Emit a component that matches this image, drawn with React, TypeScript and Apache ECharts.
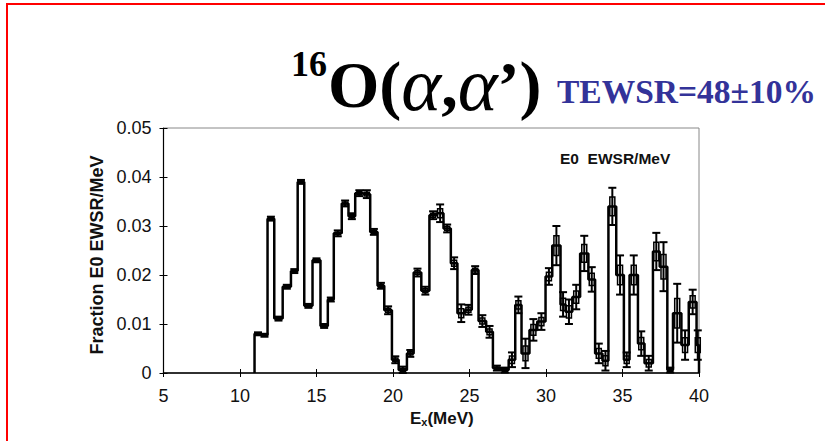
import React, { useEffect, useRef } from "react";
import * as echarts from "echarts";

// Bin edges (MeV) of the E0 strength histogram
const binEdges = [
  10.95, 11.4, 11.8, 12.24, 12.79, 13.33, 13.77, 14.2, 14.74, 15.26, 15.74, 16.13,
  16.65, 17.09, 17.53, 18.07, 18.51, 18.99, 19.43, 19.93, 20.37, 20.91, 21.35,
  21.85, 22.38, 22.86, 23.3, 23.78, 24.21, 24.71, 25.15, 25.59, 26.09, 26.53,
  27.05, 27.56, 27.99, 28.4, 28.92, 29.43, 29.97, 30.41, 30.95, 31.28, 31.72,
  32.23, 32.77, 33.21, 33.69, 34.08, 34.59, 35.09, 35.46, 36.01, 36.44, 36.99,
  37.43, 37.93, 38.3, 38.85, 39.33, 39.84, 40.0,
];

// Fraction of E0 EWSR per MeV in each bin
const fractionValues = [
  0.008, 0.0077, 0.0315, 0.0111, 0.0176, 0.0208, 0.039, 0.0137, 0.023, 0.0096,
  0.015, 0.0285, 0.0346, 0.032, 0.0367, 0.0365, 0.0288, 0.0178, 0.0128, 0.0027,
  0.0006, 0.004, 0.0205, 0.0168, 0.0322, 0.0326, 0.0295, 0.0224, 0.0122, 0.0129,
  0.021, 0.0106, 0.0084, 0.001, 0.0006, 0.0027, 0.0139, 0.004, 0.0088, 0.0105,
  0.0197, 0.026, 0.014, 0.0125, 0.0155, 0.0244, 0.0191, 0.004, 0.0025, 0.034,
  0.02, 0.0027, 0.02, 0.006, 0.002, 0.0248, 0.0217, 0.0006, 0.0122, 0.0057,
  0.0145, 0.0057,
];

// Statistical uncertainty of each bin
const errorValues = [
  0.0003, 0.0003, 0.0004, 0.0004, 0.0004, 0.0004, 0.0004, 0.0004, 0.0004, 0.0004,
  0.0004, 0.0006, 0.0006, 0.0006, 0.0006, 0.0008, 0.0006, 0.0006, 0.0008, 0.0007,
  0.0007, 0.0007, 0.0008, 0.0008, 0.0008, 0.0018, 0.0008, 0.0012, 0.0018, 0.001,
  0.0008, 0.0012, 0.0012, 0.0005, 0.0005, 0.0015, 0.0017, 0.003, 0.0022, 0.0017,
  0.0017, 0.004, 0.0025, 0.0025, 0.0025, 0.0036, 0.0025, 0.002, 0.002, 0.0038,
  0.004, 0.0015, 0.004, 0.0025, 0.0015, 0.0038, 0.005, 0.0005, 0.006, 0.003,
  0.0025, 0.003,
];

const xRange = [5, 40];
const yRange = [0, 0.05];

export default function App() {
  const ref = useRef<HTMLDivElement>(null);

  useEffect(() => {
    if (!ref.current) return;
    const chart = echarts.init(ref.current, null, { renderer: "svg" });

    const stepData: number[][] = [[binEdges[0], 0]];
    fractionValues.forEach((v, i) => stepData.push([binEdges[i], v]));
    stepData.push([binEdges[binEdges.length - 1], fractionValues[fractionValues.length - 1]]);
    stepData.push([binEdges[binEdges.length - 1], 0]);

    const errData = fractionValues.map((v, i) => [
      (binEdges[i] + binEdges[i + 1]) / 2,
      Math.max(0, v - errorValues[i]),
      v + errorValues[i],
      v,
      errorValues[i],
    ]);

    const axisFont = { fontFamily: "Liberation Sans", fontSize: 18, color: "#111" };

    chart.setOption({
      animation: false,
      backgroundColor: "#fff",
      grid: {
        left: 163.5,
        right: 126,
        top: 128,
        bottom: 68,
        show: true,
        borderColor: "#888",
        borderWidth: 1,
      },
      xAxis: [
        {
          type: "value",
          min: xRange[0],
          max: xRange[1],
          interval: 5,
          splitLine: { show: false },
          axisLine: { lineStyle: { color: "#000", width: 1.5 } },
          axisTick: { length: 4, lineStyle: { color: "#000" } },
          axisLabel: { ...axisFont, margin: 14 },
        },
        {
          type: "value",
          min: xRange[0],
          max: xRange[1],
          interval: 5,
          position: "bottom",
          splitLine: { show: false },
          axisLine: { show: false },
          axisTick: { inside: true, length: 4, lineStyle: { color: "#000" } },
          axisLabel: { show: false },
        },
      ],
      yAxis: [
        {
          type: "value",
          min: yRange[0],
          max: yRange[1],
          interval: 0.01,
          splitLine: { show: false },
          axisLine: { show: true, lineStyle: { color: "#000", width: 1.2 } },
          axisTick: { show: true, length: 4, lineStyle: { color: "#000" } },
          axisLabel: { ...axisFont, margin: 12 },
        },
        {
          type: "value",
          min: yRange[0],
          max: yRange[1],
          interval: 0.01,
          position: "left",
          splitLine: { show: false },
          axisLine: { show: false },
          axisTick: { show: true, inside: true, length: 4, lineStyle: { color: "#000" } },
          axisLabel: { show: false },
        },
      ],
      series: [
        {
          type: "line",
          step: "end",
          data: stepData,
          symbol: "none",
          lineStyle: { color: "#000", width: 2.5 },
          xAxisIndex: 0,
          yAxisIndex: 0,
          z: 3,
        },
        {
          type: "custom",
          data: errData,
          xAxisIndex: 0,
          yAxisIndex: 0,
          z: 4,
          renderItem: (params: any, api: any) => {
            const x = api.value(0);
            const pLo = api.coord([x, api.value(1)]);
            const pHi = api.coord([x, api.value(2)]);
            const v = api.value(3);
            const e = api.value(4);
            const bTop = api.coord([x, v + e * 0.5]);
            const bBot = api.coord([x, Math.max(0, v - e * 0.5)]);
            const cap = 4;
            const st = { stroke: "#000", lineWidth: 2 };
            return {
              type: "group",
              children: [
                { type: "line", shape: { x1: pLo[0], y1: pLo[1], x2: pHi[0], y2: pHi[1] }, style: st },
                { type: "line", shape: { x1: pHi[0] - cap, y1: pHi[1], x2: pHi[0] + cap, y2: pHi[1] }, style: st },
                { type: "line", shape: { x1: pLo[0] - cap, y1: pLo[1], x2: pLo[0] + cap, y2: pLo[1] }, style: st },
                {
                  type: "rect",
                  shape: { x: bTop[0] - 2.5, y: bTop[1], width: 5, height: Math.max(1, bBot[1] - bTop[1]) },
                  style: { fill: "none", stroke: "#000", lineWidth: 1.5 },
                },
              ],
            };
          },
        },
      ],
      graphic: [
        {
          type: "rect",
          shape: { x: 7, y: 4, width: 900, height: 500 },
          style: { fill: "none", stroke: "#ff0000", lineWidth: 2 },
          silent: true,
        },
        {
          type: "text",
          x: 291,
          y: 64,
          style: { text: "16", font: 'bold 36px "Liberation Serif"', fill: "#000", textVerticalAlign: "middle" },
        },
        {
          type: "text",
          x: 328,
          y: 84,
          style: {
            text: "{n|O(}{a|α}{n|,}{a|α}{n|’)}",
            textVerticalAlign: "middle",
            rich: {
              n: { fontFamily: "Liberation Serif", fontWeight: "bold", fontSize: 66, fill: "#000" },
              a: { fontFamily: "Liberation Serif", fontStyle: "italic", fontSize: 76, fill: "#000" },
            },
          },
        },
        {
          type: "text",
          x: 557,
          y: 91,
          style: {
            text: "TEWSR=48±10%",
            font: 'bold 33.5px "Liberation Serif"',
            fill: "#333399",
            textVerticalAlign: "middle",
          },
        },
        {
          type: "text",
          x: 97,
          y: 255,
          rotation: Math.PI / 2,
          style: {
            text: "Fraction E0 EWSR/MeV",
            font: 'bold 18px "Liberation Sans"',
            fill: "#111",
            textAlign: "center",
            textVerticalAlign: "middle",
          },
        },
        {
          type: "text",
          x: 410,
          y: 418,
          style: {
            text: "{e|E}{s|x}{e|(MeV)}",
            textVerticalAlign: "middle",
            rich: {
              e: { fontFamily: "Liberation Sans", fontWeight: "bold", fontSize: 17, fill: "#111" },
              s: { fontFamily: "Liberation Sans", fontWeight: "bold", fontSize: 11, fill: "#111", padding: [8, 0, 0, 0] },
            },
          },
        },
        {
          type: "text",
          x: 560,
          y: 158,
          style: {
            text: "E0  EWSR/MeV",
            font: 'bold 15.5px "Liberation Sans"',
            fill: "#111",
            textVerticalAlign: "middle",
          },
        },
      ],
    });

    return () => chart.dispose();
  }, []);

  return (
    <div
      ref={ref}
      style={{ position: "fixed", left: 0, top: 0, width: 825, height: 441, background: "#fff" }}
    />
  );
}
